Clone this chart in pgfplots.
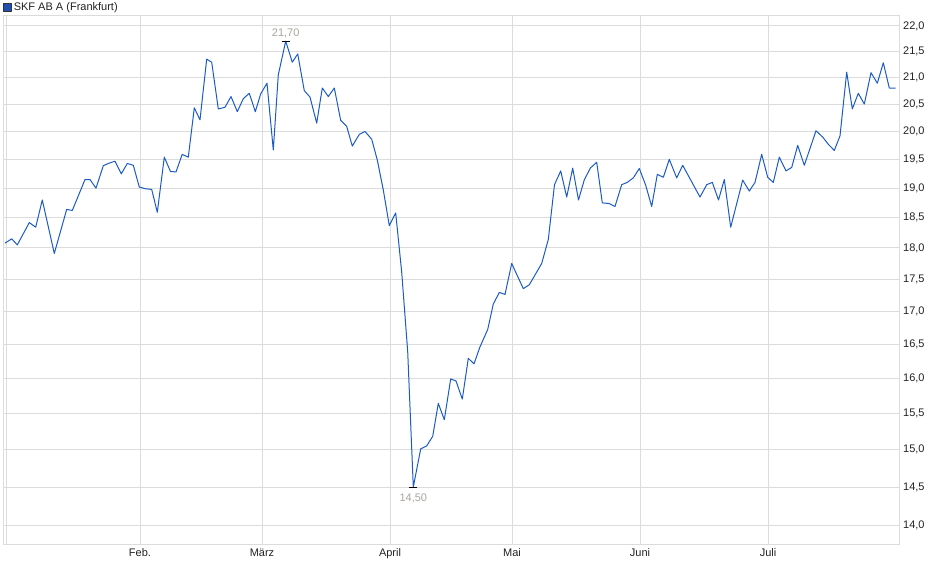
\documentclass[border=0pt]{standalone}
\usepackage{pgfplots}
\pgfplotsset{compat=1.18}
\usepackage{fontspec}
\setmainfont{Liberation Sans}
\definecolor{lineblue}{HTML}{1B5BC4}
\definecolor{legblue}{HTML}{1F4FB0}
\definecolor{gridgray}{HTML}{DCDCDC}
\definecolor{annot}{HTML}{A8A49C}
\definecolor{ticktext}{HTML}{222222}
\pgfplotstableread{
x y
5 18.08
11.7 18.15
17.3 18.05
29.3 18.42
35.7 18.34
42.3 18.80
54.3 17.91
66.7 18.64
72.3 18.62
85 19.15
90 19.15
96 19.00
103.3 19.39
108.3 19.43
115 19.47
121.3 19.25
127.3 19.43
133.3 19.40
139.3 19.02
145.7 18.99
151.7 18.98
157.3 18.59
164.3 19.54
170.5 19.29
176 19.28
182.2 19.59
188.3 19.54
194.3 20.43
200 20.21
206.7 21.35
211.7 21.29
218.3 20.41
225 20.44
231 20.64
237.3 20.36
243.3 20.60
249.3 20.70
255.3 20.36
260.7 20.69
267 20.89
273.3 19.67
278.3 21.05
285.7 21.70
292.3 21.29
297.7 21.45
304.3 20.75
310 20.63
316.7 20.15
322.3 20.80
328.3 20.64
334.3 20.80
340.7 20.20
346.7 20.09
352.3 19.74
359.3 19.95
365 20.00
371.7 19.86
377.3 19.49
383.3 18.97
389.3 18.37
395.7 18.58
401.7 17.61
407.7 16.39
413.3 14.50
420.7 15.01
426.7 15.05
432.7 15.18
438.3 15.64
444.3 15.41
450.7 15.99
456 15.96
462.3 15.70
468.3 16.29
474 16.21
480 16.46
487.7 16.72
493.3 17.11
499.3 17.29
505 17.26
511.7 17.75
523.3 17.35
529.3 17.41
541.7 17.75
548.3 18.14
554.5 19.06
560.7 19.30
566.7 18.85
572.7 19.35
578.5 18.80
584.2 19.14
590.3 19.35
596.7 19.45
602.3 18.75
609 18.74
615 18.69
621.7 19.06
627.3 19.10
633.3 19.18
639.3 19.34
645.5 19.06
651.7 18.69
657.3 19.24
663.3 19.19
669.3 19.50
676.7 19.18
682.7 19.40
700 18.85
706.7 19.06
712.3 19.10
718.5 18.80
724.3 19.15
730.7 18.34
742.7 19.14
749.3 18.95
755 19.10
761.7 19.59
767.7 19.19
773.3 19.10
779.3 19.54
786 19.30
791.7 19.36
797.7 19.75
804.3 19.40
816 20.01
822.7 19.90
828.3 19.77
834.3 19.66
840 19.92
846.7 21.10
852.3 20.41
858.3 20.70
864.3 20.50
871 21.09
877.3 20.89
883.3 21.28
889.3 20.80
895.7 20.80
}\pricedata
\begin{document}
\begin{tikzpicture}[x=1pt,y=1pt,font=\fontsize{11}{13}\selectfont]
\useasboundingbox (0,0) rectangle (940,579);
\begin{axis}[
  at={(3pt,34pt)}, anchor=south west,
  width=896pt, height=529pt, scale only axis,
  ymode=log,
  xmin=3, xmax=899, ymin=13.76, ymax=22.20,
  ytick={14,14.5,15,15.5,16,16.5,17,17.5,18,18.5,19,19.5,20,20.5,21,21.5,22},
  yticklabels={{14,0},{14,5},{15,0},{15,5},{16,0},{16,5},{17,0},{17,5},{18,0},{18,5},{19,0},{19,5},{20,0},{20,5},{21,0},{21,5},{22,0}},
  yticklabel pos=right,
  xtick={6,140,262,390,512,640,768},
  xticklabels={,Feb.,März,April,Mai,Juni,Juli},
  major tick length=0pt,
  minor tick num=0,
  grid=major,
  major grid style={gridgray, line width=1pt},
  axis line style={gridgray, line width=1pt},
  tick label style={font=\fontsize{11}{13}\selectfont, text=ticktext},
  yticklabel style={anchor=west, inner sep=0pt, xshift=4pt},
  xticklabel style={anchor=base, inner sep=0pt, yshift=-12pt},
  legend style={at={(axis description cs:0,1)}, anchor=south west,
    draw=none, fill=none, inner sep=0pt, outer sep=0pt, yshift=2pt,
    font=\fontsize{11}{13}\selectfont, text=ticktext,
    nodes={inner sep=2pt}},
  legend cell align=left,
  legend image code/.code={\draw[fill=legblue, draw=black!80, line width=0.8pt] (0pt,-4pt) rectangle (8pt,4pt);},
]
\addplot[lineblue, line width=1pt, line join=round] table[x=x,y=y] {\pricedata};
\addlegendentry{SKF AB A (Frankfurt)}
\addplot[forget plot, only marks, mark=-, mark size=4pt, mark options={black, line width=1pt},
  nodes near coords={21{,}70},
  every node near coord/.append style={anchor=base, inner sep=0pt, yshift=4.5pt, text=annot, font=\fontsize{11}{13}\selectfont}]
  coordinates {(285.7,21.70)};
\addplot[forget plot, only marks, mark=-, mark size=4pt, mark options={black, line width=1pt},
  nodes near coords={14{,}50},
  every node near coord/.append style={anchor=base, inner sep=0pt, yshift=-14pt, text=annot, font=\fontsize{11}{13}\selectfont}]
  coordinates {(413.3,14.50)};
\end{axis}
\end{tikzpicture}
\end{document}
